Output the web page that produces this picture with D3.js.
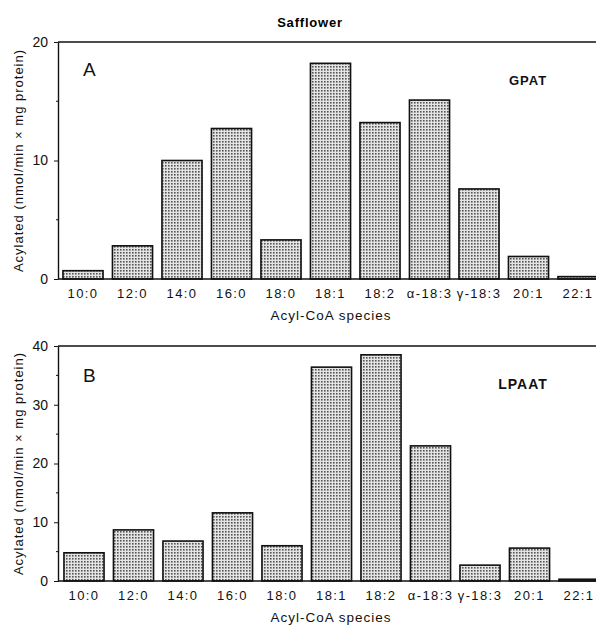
<!DOCTYPE html>
<html>
<head>
<meta charset="utf-8">
<script src="https://cdn.jsdelivr.net/npm/d3@7"></script>
<style>
  body { margin: 0; background: #fff; }
  svg { display: block; font-family: "Liberation Sans", Arial, sans-serif; }
</style>
</head>
<body>
<div id="chart"></div>
<script>
// Data
var species = ["10:0", "12:0", "14:0", "16:0", "18:0", "18:1", "18:2", "α-18:3", "γ-18:3", "20:1", "22:1"];
var gpatValues = [0.7, 2.8, 10.0, 12.7, 3.3, 18.2, 13.2, 15.1, 7.6, 1.9, 0.2];
var lpaatValues = [4.8, 8.7, 6.8, 11.6, 6.0, 36.4, 38.5, 23.0, 2.7, 5.6, 0.3];
var gpatTicks = [0, 10, 20];
var lpaatTicks = [0, 10, 20, 30, 40];

var svgWidth = 596;
var svgHeight = 629;

var svg = d3.select("#chart")
  .append("svg")
  .attr("width", svgWidth)
  .attr("height", svgHeight);

// stippled fill like the printed figure
var defs = svg.append("defs");
var pat = defs.append("pattern")
  .attr("id", "stipple")
  .attr("width", 3)
  .attr("height", 3)
  .attr("patternUnits", "userSpaceOnUse");
pat.append("rect").attr("width", 3).attr("height", 3).attr("fill", "#e4e4e4");
pat.append("rect").attr("width", 1.6).attr("height", 1.6).attr("fill", "#555");

// title
svg.append("text")
  .attr("x", 310)
  .attr("y", 27)
  .attr("text-anchor", "middle")
  .attr("font-size", "13px")
  .attr("font-weight", "bold")
  .attr("letter-spacing", "0.8px")
  .text("Safflower");

var panels = [
  { values: gpatValues, ticks: gpatTicks, max: 20, top: 42, bottom: 279, letter: "A", name: "GPAT",
    nameX: 528, nameY: 85, letterY: 76, xShift: 0, nameSize: 13 },
  { values: lpaatValues, ticks: lpaatTicks, max: 40, top: 346, bottom: 581, letter: "B", name: "LPAAT",
    nameX: 523, nameY: 389, letterY: 382, xShift: 1, nameSize: 14 }
];

panels.forEach(function(p) {
  var axisX = 58;

  var x = d3.scaleBand()
    .domain(species)
    .range([axisX + p.xShift, 603 + p.xShift])
    .paddingInner(0.19)
    .paddingOuter(0.1);

  var y = d3.scaleLinear()
    .domain([0, p.max])
    .range([p.bottom, p.top]);

  var g = svg.append("g");

  // bars
  g.selectAll("rect.bar")
    .data(p.values)
    .enter()
    .append("rect")
    .attr("class", "bar")
    .attr("x", function(d, i) { return x(species[i]); })
    .attr("y", function(d) { return y(d); })
    .attr("width", x.bandwidth())
    .attr("height", function(d) { return y(0) - y(d); })
    .attr("fill", "url(#stipple)")
    .attr("stroke", "#111")
    .attr("stroke-width", 1.6);

  // top frame line
  g.append("line")
    .attr("x1", axisX).attr("x2", svgWidth)
    .attr("y1", y(p.max)).attr("y2", y(p.max))
    .attr("stroke", "#111").attr("stroke-width", 1.5);

  // x axis
  var xAxis = g.append("g")
    .attr("transform", "translate(0," + y(0) + ")")
    .call(d3.axisBottom(x).tickSize(0).tickPadding(10));
  xAxis.select(".domain").attr("d", "M" + axisX + ",0H" + svgWidth)
    .attr("stroke", "#111").attr("stroke-width", 1.6);
  xAxis.selectAll("text").attr("font-size", "13px").attr("letter-spacing", "1.4px").attr("fill", "#111");

  // minor ticks on y
  var minor = d3.range(5, p.max, 10);
  g.selectAll("line.minor")
    .data(minor)
    .enter()
    .append("line")
    .attr("class", "minor")
    .attr("x1", axisX - 2).attr("x2", axisX)
    .attr("y1", function(d) { return y(d); })
    .attr("y2", function(d) { return y(d); })
    .attr("stroke", "#111");

  // y axis
  var yAxis = g.append("g")
    .attr("transform", "translate(" + axisX + ",0)")
    .call(d3.axisLeft(y).tickValues(p.ticks).tickSize(4).tickPadding(6).tickSizeOuter(0));
  yAxis.select(".domain").attr("stroke", "#111").attr("stroke-width", 1.4);
  yAxis.selectAll(".tick line").attr("stroke", "#111");
  yAxis.selectAll("text").attr("font-size", "14px").attr("fill", "#111");

  // axis titles
  g.append("text")
    .attr("x", 331)
    .attr("y", y(0) + 41)
    .attr("text-anchor", "middle")
    .attr("font-size", "13.5px")
    .attr("letter-spacing", "1px")
    .attr("fill", "#111")
    .text("Acyl-CoA species");

  g.append("text")
    .attr("transform", "translate(23," + ((p.top + p.bottom) / 2) + ") rotate(-90)")
    .attr("text-anchor", "middle")
    .attr("font-size", "13px")
    .attr("letter-spacing", "1px")
    .attr("fill", "#111")
    .text("Acylated (nmol/min × mg protein)");

  // panel letter and enzyme name
  g.append("text")
    .attr("x", 83)
    .attr("y", p.letterY)
    .attr("font-size", "19px")
    .attr("fill", "#111")
    .text(p.letter);

  g.append("text")
    .attr("x", p.nameX)
    .attr("y", p.nameY)
    .attr("text-anchor", "middle")
    .attr("font-size", p.nameSize + "px")
    .attr("font-weight", "bold")
    .attr("letter-spacing", "1px")
    .attr("fill", "#111")
    .text(p.name);
});
</script>
</body>
</html>
